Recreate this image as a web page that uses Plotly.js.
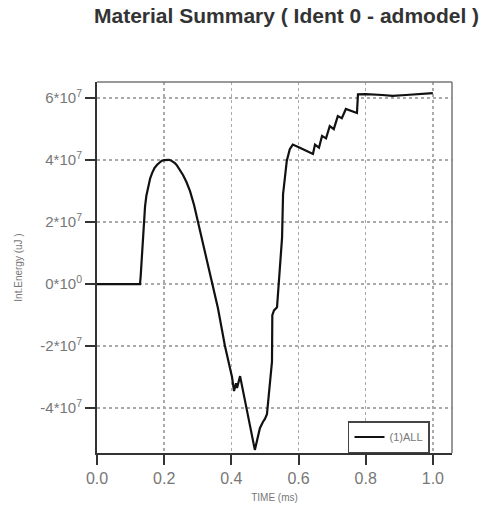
<!DOCTYPE html>
<html><head><meta charset="utf-8">
<script src="https://cdn.plot.ly/plotly-3.0.1.min.js"></script>
<style>html,body{margin:0;padding:0;background:#fff}#chart{width:484px;height:510px}</style>
</head><body><div id="chart"></div>
<script>
const timeMs = [0, 0.128, 0.130, 0.132, 0.134, 0.137, 0.140, 0.143, 0.147, 0.152, 0.158, 0.164, 0.171, 0.179, 0.186, 0.193, 0.200, 0.208, 0.214, 0.220, 0.226, 0.232, 0.238, 0.244, 0.250, 0.256, 0.266, 0.277, 0.289, 0.301, 0.310, 0.318, 0.330, 0.345, 0.360, 0.381, 0.402, 0.408, 0.414, 0.417, 0.426, 0.470, 0.485, 0.494, 0.500, 0.506, 0.515, 0.521, 0.522, 0.527, 0.536, 0.539, 0.545, 0.551, 0.554, 0.560, 0.565, 0.574, 0.583, 0.604, 0.640, 0.643, 0.649, 0.661, 0.670, 0.682, 0.693, 0.705, 0.717, 0.729, 0.741, 0.774, 0.777, 0.80, 0.85, 0.88, 0.92, 0.96, 1.0];
const intEnergy = [0, 0, 0.25e7, 0.6e7, 0.97e7, 1.6e7, 2.1e7, 2.5e7, 2.85e7, 3.1e7, 3.4e7, 3.58e7, 3.74e7, 3.85e7, 3.93e7, 3.98e7, 4.0e7, 4.01e7, 4.01e7, 3.99e7, 3.95e7, 3.9e7, 3.83e7, 3.74e7, 3.65e7, 3.52e7, 3.3e7, 3.0e7, 2.55e7, 2.0e7, 1.55e7, 1.15e7, 0.65e7, 0, -0.77e7, -2.0e7, -3.0e7, -3.45e7, -3.2e7, -3.35e7, -2.97e7, -5.35e7, -4.65e7, -4.45e7, -4.35e7, -4.2e7, -3.3e7, -2.5e7, -1.0e7, -0.85e7, -0.75e7, -0.3e7, 0.5e7, 1.5e7, 2.9e7, 3.6e7, 3.97e7, 4.35e7, 4.5e7, 4.4e7, 4.2e7, 4.2e7, 4.5e7, 4.4e7, 4.78e7, 4.7e7, 5.1e7, 5.0e7, 5.42e7, 5.35e7, 5.65e7, 5.52e7, 6.12e7, 6.13e7, 6.1e7, 6.07e7, 6.1e7, 6.13e7, 6.16e7];
const xTickVals = [0, 0.2, 0.4, 0.6, 0.8, 1.0];
const xTickText = ['0.0', '0.2', '0.4', '0.6', '0.8', '1.0'];
const yTickVals = [6e7, 4e7, 2e7, 0, -2e7, -4e7];
const yTickText = ['6*10<sup>7</sup>', '4*10<sup>7</sup>', '2*10<sup>7</sup>', '0*10<sup>0</sup>', '-2*10<sup>7</sup>', '-4*10<sup>7</sup>'];
const seriesName = '(1)ALL';

const trace = {x: timeMs, y: intEnergy, type: 'scatter', mode: 'lines', name: seriesName,
  line: {color: '#111', width: 2.2}};

const layout = {
  width: 484, height: 510,
  margin: {l: 97, r: 32, t: 82, b: 57},
  paper_bgcolor: '#fff', plot_bgcolor: '#fff',
  font: {family: 'Liberation Sans, Arial, sans-serif', color: '#666'},
  title: {text: '<b>Material Summary ( Ident 0 - admodel )</b>', font: {size: 21, color: '#333'},
    xref: 'container', x: 94/484, xanchor: 'left', yref: 'container', y: 1 - 16/510, yanchor: 'middle'},
  showlegend: true,
  legend: {x: 0.938, xanchor: 'right', y: 0, yanchor: 'bottom', bgcolor: '#fff',
    bordercolor: '#444', borderwidth: 1.5, font: {size: 11, color: '#777'},
    itemwidth: 30, tracegroupgap: 0},
  xaxis: {range: [0, 1.057], tickvals: xTickVals, ticktext: xTickText,
    ticks: 'outside', ticklen: 10, tickwidth: 2, tickcolor: '#333',
    showline: true, linecolor: '#333', linewidth: 2, mirror: false,
    showgrid: true, gridcolor: '#aaa', griddash: 'dot', gridwidth: 1.5,
    zeroline: false, tickfont: {size: 16, color: '#777'},
    title: {text: 'TIME (ms)', font: {size: 10, color: '#777'}, standoff: 8}},
  yaxis: {range: [-5.45e7, 6.52e7], tickvals: yTickVals, ticktext: yTickText,
    ticks: 'outside', ticklen: 10, tickwidth: 2, tickcolor: '#333',
    showline: true, linecolor: '#333', linewidth: 2, mirror: false,
    showgrid: true, gridcolor: '#aaa', griddash: 'dot', gridwidth: 1.5,
    zeroline: false, tickfont: {size: 15, color: '#777'},
    title: {text: 'Int.Energy (uJ )', font: {size: 10, color: '#777'}, standoff: 16}},
  shapes: [
    {type: 'line', xref: 'paper', yref: 'paper', x0: 0, x1: 1, y0: 1, y1: 1, line: {color: '#777', width: 1.5}},
    {type: 'line', xref: 'paper', yref: 'paper', x0: 1, x1: 1, y0: 0, y1: 1, line: {color: '#777', width: 1.5}}
  ]
};
Plotly.newPlot('chart', [trace], layout, {displayModeBar: false, staticPlot: true});
</script></body></html>
